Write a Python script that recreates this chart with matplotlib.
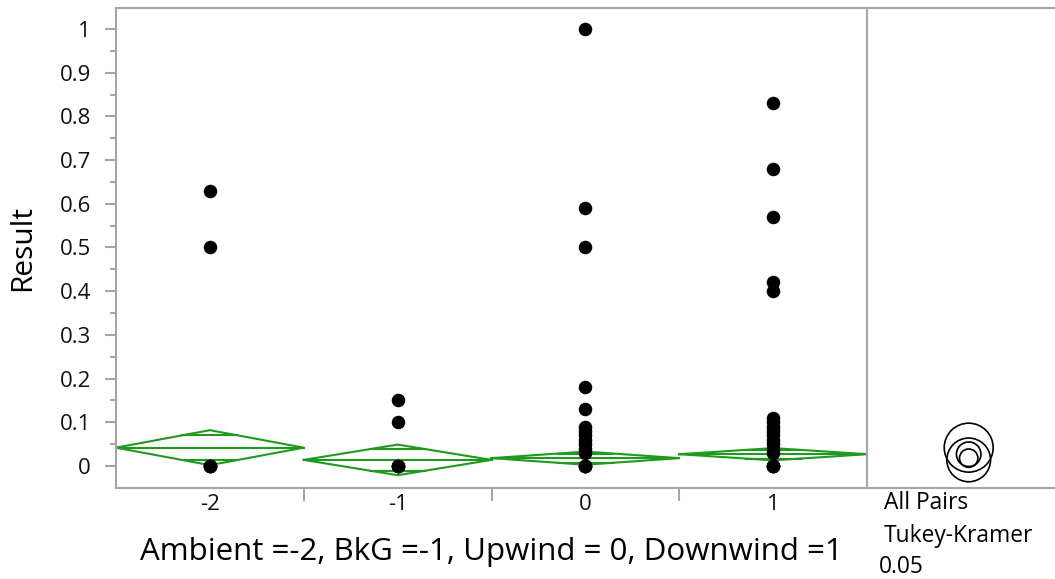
import matplotlib
matplotlib.use("Agg")
import matplotlib.pyplot as plt
from matplotlib.patches import Circle
import numpy as np

plt.rcParams['font.family'] = ['Open Sans', 'DejaVu Sans']

# ---------------- data ----------------
groups = ["-2", "-1", "0", "1"]
vals_m2 = [0.63, 0.50, 0.0, 0.0, 0.0, 0.0]
vals_m1 = [0.15, 0.10, 0.0, 0.0, 0.0, 0.0]
vals_0 = [1.0, 0.59, 0.50, 0.18, 0.13, 0.09, 0.08, 0.07, 0.06, 0.05, 0.04,
          0.03, 0.0, 0.0, 0.0, 0.0]
vals_1 = [0.83, 0.68, 0.57, 0.42, 0.40, 0.11, 0.10, 0.09, 0.08, 0.07, 0.06,
          0.05, 0.04, 0.03, 0.0, 0.0, 0.0, 0.0]
group_values = [vals_m2, vals_m1, vals_0, vals_1]
means = [0.042, 0.014, 0.018, 0.027]
ci_half = [0.040, 0.035, 0.015, 0.014]
circle_radius = [0.056, 0.050, 0.021, 0.028]
y_ticks = [0, 0.1, 0.2, 0.3, 0.4, 0.5, 0.6, 0.7, 0.8, 0.9, 1]
y_tick_labels = ["0", "0.1", "0.2", "0.3", "0.4", "0.5", "0.6", "0.7", "0.8", "0.9", "1"]
x_label = "Ambient =-2, BkG =-1, Upwind = 0, Downwind =1"
y_label = "Result"
panel_text = ["All Pairs", "Tukey-Kramer", "0.05"]

# ---------------- layout ----------------
W, H = 1055, 579
fig = plt.figure(figsize=(W / 100, H / 100), dpi=100)
x0, x1, ytop, ybot = 116, 867, 8, 488
ax = fig.add_axes([x0 / W, (H - ybot) / H, (x1 - x0) / W, (ybot - ytop) / H])
ax2 = fig.add_axes([x1 / W, (H - ybot) / H, (W - x1) / W, (ybot - ytop) / H])

spine_col = "#a6a6a6"
green = "#1f9a1f"
ylim = (-0.0503, 1.048)

# main axes
ax.set_xlim(-0.5, len(groups) - 0.5)
ax.set_ylim(*ylim)
for s in ["left", "right", "top", "bottom"]:
    ax.spines[s].set_color(spine_col)
    ax.spines[s].set_linewidth(1.5)

for i, vals in enumerate(group_values):
    m, h = means[i], ci_half[i]
    xl, xr = i - 0.5, i + 0.5
    ax.plot([xl, i, xr, i, xl], [m, m + h, m, m - h, m], color=green, lw=1.5,
            zorder=2, solid_joinstyle='miter')
    ax.plot([xl, xr], [m, m], color=green, lw=1.5, zorder=2)
    d = h / np.sqrt(2)
    frac = 1 - d / h
    for yy in (m + d, m - d):
        ax.plot([i - 0.5 * frac, i + 0.5 * frac], [yy, yy], color=green, lw=1.5, zorder=2)
    ax.scatter([i] * len(vals), vals, s=95, color="black", zorder=3, linewidths=0)

ax.set_yticks(y_ticks)
ax.set_yticklabels(y_tick_labels)
ax.set_yticks(np.arange(0.05, 1.0, 0.1), minor=True)
ax.tick_params(axis='y', which='major', length=8, width=1.5, color=spine_col,
               labelsize=16, pad=10, labelcolor="#111111")
ax.tick_params(axis='y', which='minor', length=4, width=1.5, color=spine_col)

ax.set_xticks([0.5, 1.5, 2.5])
ax.set_xticklabels([])
ax.set_xticks(range(len(groups)), minor=True)
ax.set_xticklabels(groups, minor=True)
ax.tick_params(axis='x', which='major', length=9, width=1.5, color=spine_col)
ax.tick_params(axis='x', which='minor', length=0, labelsize=16, pad=4, labelcolor="#111111")

ax.set_xlabel(x_label, fontsize=22.5, labelpad=16)
ax.set_ylabel(y_label, fontsize=21.5, labelpad=16)

# right comparison-circle panel
unit_per_px = (ylim[1] - ylim[0]) / (ybot - ytop)
ax2.set_ylim(*ylim)
ax2.set_xlim(0, (W - x1) * unit_per_px)
ax2.set_xticks([])
ax2.set_yticks([])
ax2.patch.set_alpha(0)
for s in ["left", "right"]:
    ax2.spines[s].set_visible(False)
for s in ["top", "bottom"]:
    ax2.spines[s].set_color(spine_col)
    ax2.spines[s].set_linewidth(1.5)
cx = (968.7 - x1) * unit_per_px
for m, r in zip(means, circle_radius):
    ax2.add_patch(Circle((cx, m), r, fill=False, edgecolor="black", lw=1.2))

fig.text(884 / W, 1 - 503 / H, panel_text[0], fontsize=16.4, va='center', ha='left')
fig.text(884 / W, 1 - 536 / H, panel_text[1], fontsize=16.4, va='center', ha='left')
fig.text(879 / W, 1 - 567 / H, panel_text[2], fontsize=16.4, va='center', ha='left')

fig.savefig("out.png", dpi=100, facecolor="white")
